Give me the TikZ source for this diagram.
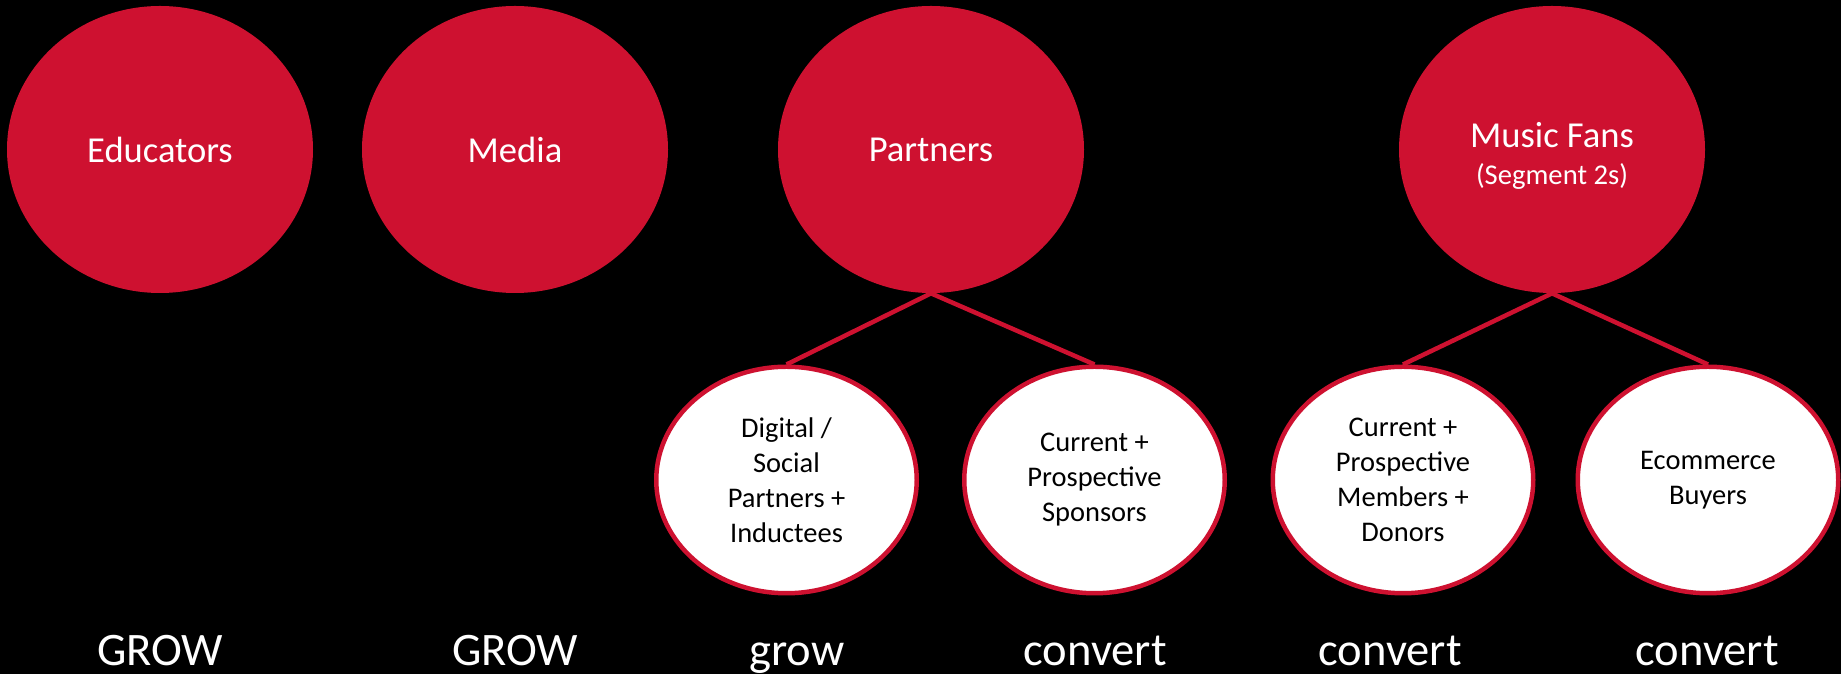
\documentclass[tikz,border=0pt]{standalone}
\usepackage{fontspec}
\setmainfont{Carlito}
\usepackage{tikz}
\usetikzlibrary{shapes.geometric}
\definecolor{segred}{RGB}{206,17,48}

\begin{document}
\begin{tikzpicture}[
  segment/.style={ellipse, fill=segred, inner sep=0, minimum width=6.12cm,
    minimum height=5.74cm, text=white, align=center,
    font=\fontsize{20.8}{21}\selectfont},
  subsegment/.style={ellipse, draw=segred, fill=white, line width=2.56pt,
    inner sep=0, minimum width=5.21cm, minimum height=4.53cm, align=center,
    font=\fontsize{16.2}{19.9}\selectfont},
  action/.style={text=white, anchor=base, inner sep=0,
    font=\fontsize{26.5}{30}\selectfont},
  link/.style={segred, line width=2.56pt}
]

  \fill[black] (0, 0) rectangle (36.82, 13.48);

  \node[segment] (educators) at (3.20, 10.49) {Educators};
  \node[segment] (media) at (10.30, 10.49) {Media};
  \node[segment] (partners) at (18.62, 10.49) {Partners};
  % strut on the first line pushes the two lines a bit lower
  \node[segment] (fans) at (31.04, 10.49)
    {\rule{0pt}{0.76cm}Music Fans\\{\fontsize{16.3}{21}\selectfont (Segment 2s)}};

  \node[subsegment] (digital) at (15.73, 3.88)
    {Digital /\\Social\\Partners +\\Inductees};
  \node[subsegment] (sponsors) at (21.89, 3.88)
    {Current +\\Prospective\\Sponsors};
  \node[subsegment] (members) at (28.06, 3.88)
    {Current +\\Prospective\\Members +\\Donors};
  \node[subsegment] (buyers) at (34.16, 3.88) {Ecommerce\\Buyers};

  \draw[link] (partners.south) -- (digital.north);
  \draw[link] (partners.south) -- (sponsors.north);
  \draw[link] (fans.south) -- (members.north);
  \draw[link] (fans.south) -- (buyers.north);

  \node[action] (educators-act) at (3.20, 0.16) {GROW};
  \node[action] (media-act) at (10.30, 0.16) {GROW};
  \node[action] (digital-act) at (15.94, 0.16) {grow};
  \node[action] (sponsors-act) at (21.90, 0.16) {convert};
  \node[action] (members-act) at (27.80, 0.16) {convert};
  \node[action] (buyers-act) at (34.14, 0.16) {convert};

\end{tikzpicture}
\end{document}
